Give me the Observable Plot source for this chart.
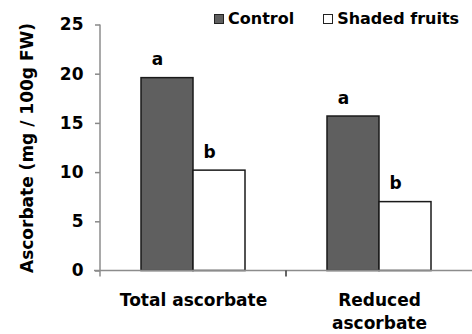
<!DOCTYPE html>
<html>
<head>
<meta charset="utf-8">
<script src="https://cdn.jsdelivr.net/npm/d3@7"></script>
<script src="https://cdn.jsdelivr.net/npm/@observablehq/plot@0.6"></script>
<style>
  body { margin: 0; background: #fff; }
  #wrap { position: relative; width: 472px; height: 334px; font-family: "DejaVu Sans", sans-serif; font-weight: bold; }
  #legend { position: absolute; left: 214px; top: 10.7px; display: flex; align-items: center; font-size: 16px; line-height: 16px; color: #000; }
  .item { display: flex; align-items: center; }
  .sw { box-sizing: border-box; width: 10px; height: 10px; border: 1.3px solid #222; margin-right: 4px; }
  #wrap svg { position: absolute; left: 0; top: 0; }
</style>
</head>
<body>
<div id="wrap"><div id="legend"></div></div>
<script>
// ---- data ----
const categories = ["Total ascorbate", "Reduced ascorbate"];
const categoryLabels = ["Total ascorbate", "Reduced\nascorbate"];
const series = ["Control", "Shaded fruits"];
const controlValues = [19.6, 15.7];
const shadedValues = [10.2, 7.0];
const controlLetters = ["a", "a"];
const shadedLetters = ["b", "b"];
const yTicks = [0, 5, 10, 15, 20, 25];
const seriesColors = ["#5f5f5f", "#ffffff"];

const rows = [];
categories.forEach((c, i) => {
  rows.push({category: c, series: series[0], value: controlValues[i], letter: controlLetters[i]});
  rows.push({category: c, series: series[1], value: shadedValues[i], letter: shadedLetters[i]});
});
const labelOf = new Map(categories.map((c, i) => [c, categoryLabels[i]]));

const plot = Plot.plot({
  width: 472,
  height: 334,
  marginLeft: 100,
  marginRight: 0,
  marginTop: 24.5,
  marginBottom: 63.5,
  style: {fontFamily: "'DejaVu Sans', sans-serif", fontWeight: "bold", fontSize: "17px", color: "#000", background: "transparent"},
  fx: {domain: categories, padding: 0},
  x: {domain: series, paddingInner: 0, paddingOuter: 0.76, axis: null},
  y: {domain: [0, 25]},
  color: {domain: series, range: seriesColors},
  marks: [
    Plot.axisY({ticks: yTicks, tickSize: 5, tickPadding: 12, stroke: "#888", strokeWidth: 1.5, fill: "#000", fontSize: 17,
      label: "Ascorbate (mg / 100g FW)", labelAnchor: "center", labelOffset: 80, labelArrow: "none"}),
    Plot.axisFx({anchor: "bottom", tickSize: 0, tickPadding: 19, fontSize: 17, lineHeight: 1.33, label: null,
      tickFormat: d => labelOf.get(d)}),
    Plot.barY(rows, {fx: "category", x: "series", y: "value", fill: "series", stroke: "#1a1a1a", strokeWidth: 1.5}),
    Plot.text(rows, {fx: "category", x: "series", y: "value", text: "letter", dy: -13, dx: -10, lineAnchor: "bottom", fontSize: 17, fill: "#000"})
  ]
});

document.getElementById("wrap").appendChild(plot);

// axis lines and category boundary ticks, from the plot's scales
const fx = plot.scale("fx"), y = plot.scale("y");
const svg = d3.select(plot);
const x0 = fx.range[0], x1 = fx.range[1], y0 = y.apply(0), yTop = y.apply(d3.max(yTicks));
const g = svg.append("g").attr("fill", "none");
g.append("line").attr("x1", x0 - 6).attr("x2", x1).attr("y1", y0).attr("y2", y0).attr("stroke", "#8c8c8c").attr("stroke-width", 1.5);
g.append("line").attr("x1", x0).attr("x2", x0).attr("y1", yTop).attr("y2", y0 + 6).attr("stroke", "#8c8c8c").attr("stroke-width", 1.5);
categories.slice(1).forEach(c => {
  const bx = fx.apply(c);
  g.append("line").attr("x1", bx).attr("x2", bx).attr("y1", y0).attr("y2", y0 + 6).attr("stroke", "#333").attr("stroke-width", 1.5);
});

// legend
const legend = d3.select("#legend");
series.forEach((s, i) => {
  const item = legend.append("div").attr("class", "item").style("margin-right", i === 0 ? "29px" : "0");
  item.append("div").attr("class", "sw").style("background", seriesColors[i]);
  item.append("span").text(s);
});
</script>
</body>
</html>
